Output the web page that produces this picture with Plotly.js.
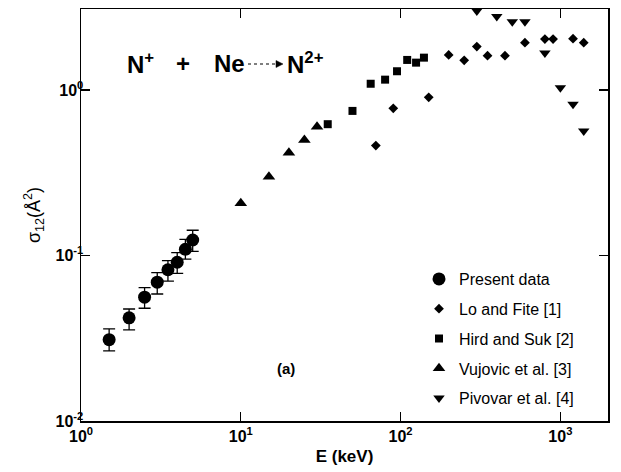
<!DOCTYPE html>
<html><head><meta charset="utf-8">
<script src="https://cdn.plot.ly/plotly-3.0.1.min.js"></script>
<style>html,body{margin:0;padding:0;background:#fff}#chart{width:621px;height:472px}</style>
</head><body><div id="chart"></div>
<script>
// ---- data ----
const presentE = [1.5, 2, 2.5, 3, 3.5, 4, 4.5, 5];
const presentSigma = [0.031, 0.042, 0.056, 0.069, 0.082, 0.091, 0.109, 0.124];
const presentErrPlus = [0.005, 0.0055, 0.008, 0.0097, 0.011, 0.013, 0.016, 0.018];
const presentErrMinus = [0.0045, 0.0065, 0.008, 0.0105, 0.012, 0.013, 0.014, 0.018];
const loFiteE = [70, 90, 150, 200, 250, 300, 350, 450, 600, 800, 900, 1200, 1400];
const loFiteSigma = [0.461, 0.775, 0.903, 1.627, 1.511, 1.827, 1.611, 1.611, 1.931, 2.03, 2.03, 2.04, 1.93];
const hirdSukE = [35, 50, 65, 80, 95, 110, 125, 140];
const hirdSukSigma = [0.621, 0.747, 1.09, 1.154, 1.297, 1.518, 1.462, 1.567];
const vujovicE = [10, 15, 20, 25, 30];
const vujovicSigma = [0.207, 0.299, 0.418, 0.499, 0.600];
const pivovarE = [300, 400, 500, 600, 800, 1000, 1200, 1400];
const pivovarSigma = [3.0, 2.78, 2.58, 2.58, 1.67, 1.03, 0.82, 0.565];
const seriesNames = ['Present data', 'Lo and Fite [1]', 'Hird and Suk [2]', 'Vujovic et al. [3]', 'Pivovar et al. [4]'];
const xTickVals = [1, 10, 100, 1000];
const xTickText = ['10<sup>0</sup>', '10<sup>1</sup>', '10<sup>2</sup>', '10<sup>3</sup>'];
const yTickVals = [0.01, 0.1, 1];
const yTickText = ['10<sup>-2</sup>', '10<sup>-1</sup>', '10<sup>0</sup>'];

// ---- layout helpers (pixel -> paper) ----
const L = 81, R = 608, T = 9, B = 421;
const px2x = p => (p - L) / (R - L);
const px2y = p => (B - p) / (B - T);
const FONT = 'Liberation Sans, Arial, Helvetica, sans-serif';

function tr(name, x, y, symbol, size, group, extra) {
  return Object.assign({
    type: 'scatter', mode: 'markers', name: name, x: x, y: y,
    legendgroup: group,
    marker: {symbol: symbol, size: size, color: '#000', line: {width: 0}}
  }, extra || {});
}

const traces = [
  tr(seriesNames[0], presentE, presentSigma, 'circle', 13, 'g0', {
    error_y: {type: 'data', symmetric: false, array: presentErrPlus, arrayminus: presentErrMinus,
              color: '#000', thickness: 1.3, width: 6}
  }),
  tr(seriesNames[1], loFiteE, loFiteSigma, 'diamond', 7.5, 'g1'),
  tr(seriesNames[2], hirdSukE, hirdSukSigma, 'square', 8, 'g2'),
  tr(seriesNames[3], vujovicE, vujovicSigma, 'triangle-up', 11, 'g3'),
  tr(seriesNames[4], pivovarE, pivovarSigma, 'triangle-down', 10, 'g4')
];

const axisCommon = {
  showline: true, linecolor: '#000', linewidth: 1.5, mirror: 'ticks',
  ticks: 'inside', ticklen: 9, tickwidth: 1.3, tickcolor: '#000',
  showgrid: false, zeroline: false,
  tickfont: {family: FONT, size: 16, color: '#000', weight: 'bold'}
};

const layout = {
  width: 621, height: 472,
  paper_bgcolor: '#fff', plot_bgcolor: '#fff',
  margin: {l: L, r: 621 - R, t: T, b: 472 - B, pad: 0},
  font: {family: FONT, color: '#000'},
  showlegend: true,
  legend: {
    x: px2x(419), y: px2y(262), xanchor: 'left', yanchor: 'top',
    bgcolor: 'rgba(0,0,0,0)', borderwidth: 0,
    font: {family: FONT, size: 16, color: '#000'},
    traceorder: 'grouped', tracegroupgap: 6, itemwidth: 30
  },
  xaxis: Object.assign({}, axisCommon, {
    type: 'log', range: [0, 3.298],
    tickmode: 'array', tickvals: xTickVals, ticktext: xTickText,
    title: {text: 'E (keV)', font: {family: FONT, size: 17, weight: 'bold', color: '#000'}, standoff: 6}
  }),
  yaxis: Object.assign({}, axisCommon, {
    type: 'log', range: [-2, 0.489],
    tickmode: 'array', tickvals: yTickVals, ticktext: yTickText,
    ticklabelstandoff: -7,
    title: {text: 'σ<sub>12</sub>(Å<sup>2</sup>)', font: {family: FONT, size: 18, color: '#000'}, standoff: 10}
  }),
  annotations: [
    {xref: 'paper', yref: 'paper', x: px2x(125), y: px2y(63), xanchor: 'left', yanchor: 'middle',
     text: 'N<sup>+</sup>', showarrow: false, font: {family: FONT, size: 24, weight: 'bold'}},
    {xref: 'paper', yref: 'paper', x: px2x(183), y: px2y(63), xanchor: 'center', yanchor: 'middle',
     text: '+', showarrow: false, font: {family: FONT, size: 24, weight: 'bold'}},
    {xref: 'paper', yref: 'paper', x: px2x(212), y: px2y(63), xanchor: 'left', yanchor: 'middle',
     text: 'Ne', showarrow: false, font: {family: FONT, size: 24, weight: 'bold'}},
    {xref: 'paper', yref: 'paper', x: px2x(285), y: px2y(63), xanchor: 'left', yanchor: 'middle',
     text: 'N<sup>2+</sup>', showarrow: false, font: {family: FONT, size: 24, weight: 'bold'}},
    {xref: 'paper', yref: 'paper', x: px2x(286), y: px2y(368), xanchor: 'center', yanchor: 'middle',
     text: '(a)', showarrow: false, font: {family: FONT, size: 15, weight: 'bold'}}
  ],
  shapes: [
    {type: 'line', xref: 'paper', yref: 'paper', x0: px2x(248), x1: px2x(277), y0: px2y(64), y1: px2y(64),
     line: {color: '#000', width: 1.2, dash: 'dot'}},
    {type: 'path', xref: 'paper', yref: 'paper',
     path: 'M' + px2x(276) + ',' + px2y(60.5) + ' L' + px2x(283) + ',' + px2y(64) + ' L' + px2x(276) + ',' + px2y(67.5) + ' Z',
     fillcolor: '#000', line: {color: '#000', width: 0.5}}
  ]
};

Plotly.newPlot('chart', traces, layout, {staticPlot: true, displayModeBar: false});
</script>
</body></html>
